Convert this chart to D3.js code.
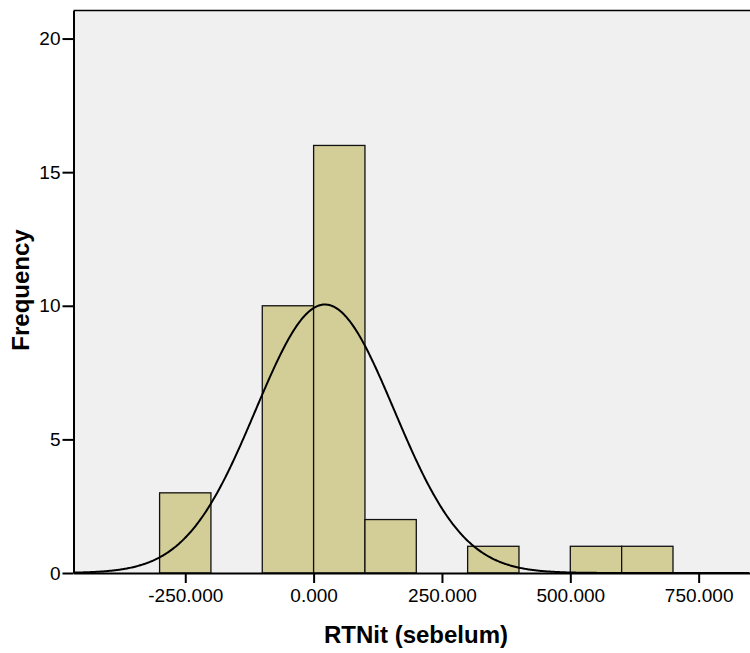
<!DOCTYPE html>
<html>
<head>
<meta charset="utf-8">
<script src="https://cdn.jsdelivr.net/npm/d3@7"></script>
<style>
  body { margin: 0; background: #fff; }
  text { font-family: "Liberation Sans", Arial, sans-serif; }
</style>
</head>
<body>
<div id="chart"></div>
<script>
// histogram bins (lower edge, upper edge, count)
const binStart = [-300, -100, 0, 100, 300, 500, 600];
const binEnd = [-200, 0, 100, 200, 400, 600, 700];
const counts = [3, 10, 16, 2, 1, 1, 1];
const xTicks = [-250, 0, 250, 500, 750];
const yTicks = [0, 5, 10, 15, 20];
// normal curve parameters
const curveMean = 22;
const curveSd = 135;
const N = 34;
const binWidth = 100;

const width = 750, height = 653;
const margin = { top: 10.5, right: 0, bottom: 80, left: 73.5 };

let svg = d3.select("#chart")
    .append("svg")
    .attr("width", width)
    .attr("height", height);

let x = d3.scaleLinear()
    .domain([-467.7, 850])
    .range([margin.left, width - margin.right]);

let y = d3.scaleLinear()
    .domain([0, 21.05])
    .range([573, margin.top]);

// plot background
svg.append("rect")
    .attr("x", x.range()[0])
    .attr("y", y.range()[1])
    .attr("width", x.range()[1] - x.range()[0])
    .attr("height", y.range()[0] - y.range()[1])
    .attr("fill", "#f0f0f0")
    .attr("stroke", "none");

// top border
svg.append("line")
    .attr("x1", x.range()[0]).attr("x2", x.range()[1])
    .attr("y1", y.range()[1]).attr("y2", y.range()[1])
    .attr("stroke", "#000").attr("stroke-width", 1.5);

let bins = counts.map((c, i) => ({ x0: binStart[i], x1: binEnd[i], count: c }));

svg.selectAll("rect.bar")
    .data(bins)
    .enter()
    .append("rect")
    .attr("class", "bar")
    .attr("x", d => x(d.x0))
    .attr("y", d => y(d.count))
    .attr("width", d => x(d.x1) - x(d.x0))
    .attr("height", d => y(0) - y(d.count))
    .attr("fill", "#d3ce98")
    .attr("stroke", "#111")
    .attr("stroke-width", 1.3);

// normal curve
let xs = d3.range(x.domain()[0], x.domain()[1], 2);
let curve = xs.map(v => ({
    v: v,
    f: N * binWidth / (curveSd * Math.sqrt(2 * Math.PI)) * Math.exp(-0.5 * Math.pow((v - curveMean) / curveSd, 2))
}));

svg.append("path")
    .datum(curve)
    .attr("fill", "none")
    .attr("stroke", "#000")
    .attr("stroke-width", 2)
    .attr("d", d3.line().x(d => x(d.v)).y(d => y(d.f)));

// x axis
let xAxis = svg.append("g")
    .attr("transform", `translate(0, ${y(0)})`)
    .call(d3.axisBottom(x).tickValues(xTicks).tickSize(10).tickSizeOuter(0).tickPadding(6)
        .tickFormat(d => d.toFixed(3)));
xAxis.select(".domain").attr("stroke-width", 2);
xAxis.selectAll(".tick line").attr("stroke-width", 2);
xAxis.selectAll("text")
    .style("font-size", "19px")
    .style("font-family", "'Liberation Sans', Arial, sans-serif")
    .attr("fill", "#000");

// y axis
let yAxis = svg.append("g")
    .attr("transform", `translate(${x.range()[0]}, 0)`)
    .call(d3.axisLeft(y).tickValues(yTicks).tickSize(11).tickSizeOuter(0).tickPadding(2));
yAxis.select(".domain").attr("stroke-width", 2);
yAxis.selectAll(".tick line").attr("stroke-width", 2);
yAxis.selectAll("text")
    .style("font-size", "19px")
    .style("font-family", "'Liberation Sans', Arial, sans-serif")
    .attr("fill", "#000");

// x-axis label
svg.append("text")
    .attr("x", 416)
    .attr("y", 643)
    .style("text-anchor", "middle")
    .style("font-size", "24px")
    .style("font-weight", "bold")
    .text("RTNit (sebelum)");

// y-axis label
svg.append("text")
    .attr("transform", `translate(29, 290) rotate(-90)`)
    .style("text-anchor", "middle")
    .style("font-size", "24px")
    .style("font-weight", "bold")
    .text("Frequency");
</script>
</body>
</html>
